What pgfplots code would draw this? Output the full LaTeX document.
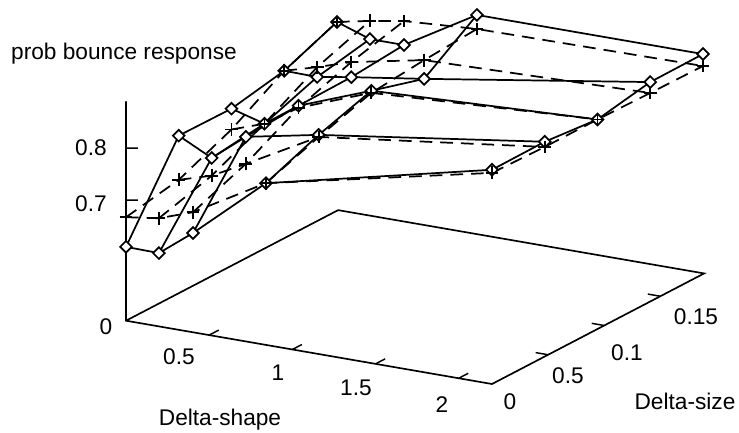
\documentclass[border=0pt]{standalone}
\usepackage{fontspec}
\setmainfont{Liberation Sans}
\usepackage{pgfplots}
\pgfplotsset{compat=1.18}
\begin{document}
\begin{tikzpicture}
\begin{axis}[
  x={(124.77pt,-21.58pt)}, y={(841.7pt,438.8pt)}, z={(0pt,390pt)},
  xmin=0,xmax=2.2,ymin=0,ymax=0.189,zmin=0.468,zmax=0.889,
  hide axis, clip=false,
  frame/.style={black,line width=1.25pt,no markers,line cap=round,line join=miter},
  tick/.style={black,line width=1.1pt,no markers},
  sol/.style={black,line width=1.3pt,no markers},
  solm/.style={black,line width=1.3pt,mark=square*,mark size=3.1pt,
     mark options={solid,fill=white,draw=black,rotate=45,line width=1.3pt}},
  dsh/.style={black,line width=1.3pt,dash pattern=on 9.5pt off 6pt,no markers},
  dshm/.style={black,line width=1.3pt,dash pattern=on 9.5pt off 6pt,mark=+,mark size=4.8pt,
     mark options={solid,line width=1.4pt}},
]
% base and vertical axis
\addplot3[frame] coordinates {(0,0,0.889)(0,0,0.468)(2.2,0,0.468)(2.2,0.189,0.468)(0,0.189,0.468)(0,0,0.468)};
% x ticks
\addplot3[tick] coordinates {(0.5,0,0.468)(0.5,0.0085,0.468)};
\addplot3[tick] coordinates {(1,0,0.468)(1,0.0085,0.468)};
\addplot3[tick] coordinates {(1.5,0,0.468)(1.5,0.0085,0.468)};
\addplot3[tick] coordinates {(2,0,0.468)(2,0.0085,0.468)};
% y ticks
\addplot3[tick] coordinates {(2.2,0.05,0.468)(2.125,0.05,0.468)};
\addplot3[tick] coordinates {(2.2,0.1,0.468)(2.125,0.1,0.468)};
\addplot3[tick] coordinates {(2.2,0.15,0.468)(2.125,0.15,0.468)};
% z ticks
\addplot3[tick] coordinates {(0,0,0.7)(0.0721,0,0.704)};
\addplot3[tick] coordinates {(0,0,0.8)(0.0721,0,0.804)};
% solid columns
\addplot3[sol] coordinates {(0,0,0.610)(0,0.047,0.771)(0,0.094,0.770)(0,0.141,0.790)(0,0.188,0.831)};
\addplot3[sol] coordinates {(0.198,0,0.609)(0.198,0.047,0.739)(0.198,0.094,0.752)(0.198,0.141,0.789)(0.198,0.188,0.809)};
\addplot3[sol] coordinates {(0.403,0,0.659)(0.403,0.047,0.791)(0.403,0.094,0.798)(0.403,0.141,0.800)(0.403,0.188,0.809)};
\addplot3[sol] coordinates {(0.841,0,0.779)(0.841,0.047,0.819)(0.841,0.094,0.851)(0.841,0.141,0.821)(0.841,0.188,0.891)};
\addplot3[sol] coordinates {(2.2,0,0.880)(2.2,0.047,0.881)(2.2,0.094,0.871)(2.2,0.141,0.890)(2.2,0.188,0.891)};
% solid rows with marks
\addplot3[solm] coordinates {(0,0,0.610)(0.198,0,0.609)(0.403,0,0.659)(0.841,0,0.779)(2.2,0,0.880)};
\addplot3[solm] coordinates {(0,0.047,0.771)(0.198,0.047,0.739)(0.403,0.047,0.791)(0.841,0.047,0.819)(2.2,0.047,0.881)};
\addplot3[solm] coordinates {(0,0.094,0.770)(0.198,0.094,0.752)(0.403,0.094,0.798)(0.841,0.094,0.851)(2.2,0.094,0.871)};
\addplot3[solm] coordinates {(0,0.141,0.790)(0.198,0.141,0.789)(0.403,0.141,0.800)(0.841,0.141,0.821)(2.2,0.141,0.890)};
\addplot3[solm] coordinates {(0,0.188,0.831)(0.198,0.188,0.809)(0.403,0.188,0.809)(0.841,0.188,0.891)(2.2,0.188,0.891)};
% dashed columns
\addplot3[dsh] coordinates {(0,0,0.667)(0,0.047,0.686)(0,0.094,0.730)(0,0.141,0.790)(0,0.188,0.831)};
\addplot3[dsh] coordinates {(0.198,0,0.676)(0.198,0.047,0.705)(0.198,0.094,0.752)(0.198,0.141,0.808)(0.198,0.188,0.844)};
\addplot3[dsh] coordinates {(0.403,0,0.699)(0.403,0.047,0.739)(0.403,0.094,0.794)(0.403,0.141,0.829)(0.403,0.188,0.855)};
\addplot3[dsh] coordinates {(0.841,0,0.779)(0.841,0.047,0.815)(0.841,0.094,0.847)(0.841,0.141,0.857)(0.841,0.188,0.864)};
\addplot3[dsh] coordinates {(2.2,0,0.874)(2.2,0.047,0.871)(2.2,0.094,0.871)(2.2,0.141,0.869)(2.2,0.188,0.868)};
% dashed rows with marks
\addplot3[dshm] coordinates {(0,0,0.667)(0.198,0,0.676)(0.403,0,0.699)(0.841,0,0.779)(2.2,0,0.874)};
\addplot3[dshm] coordinates {(0,0.047,0.686)(0.198,0.047,0.705)(0.403,0.047,0.739)(0.841,0.047,0.815)(2.2,0.047,0.871)};
\addplot3[dshm] coordinates {(0,0.094,0.730)(0.198,0.094,0.752)(0.403,0.094,0.794)(0.841,0.094,0.847)(2.2,0.094,0.871)};
\addplot3[dshm] coordinates {(0,0.141,0.790)(0.198,0.141,0.808)(0.403,0.141,0.829)(0.841,0.141,0.857)(2.2,0.141,0.869)};
\addplot3[dshm] coordinates {(0,0.188,0.831)(0.198,0.188,0.844)(0.403,0.188,0.855)(0.841,0.188,0.864)(2.2,0.188,0.868)};
\coordinate (TL) at (axis cs:-0.7574,0,1.04283);
\end{axis}
\begin{scope}[shift={(TL)},x=0.75pt,y=-0.75pt,every node/.style={inner sep=0pt,font=\fontsize{17}{20}\selectfont}]
\node at (124,54) {prob bounce response};
\node at (91,148) {0.8};
\node at (91,204) {0.7};
\node at (106,327) {0};
\node at (179,357) {0.5};
\node at (278,373) {1};
\node at (356,388) {1.5};
\node at (442,405) {2};
\node at (510,402) {0};
\node at (568,376) {0.5};
\node at (627,353) {0.1};
\node at (696,317) {0.15};
\node at (220,420) {Delta-shape};
\node at (685,401) {Delta-size};
\pgfresetboundingbox
\useasboundingbox (0,0) rectangle (739,432);
\end{scope}
\end{tikzpicture}
\end{document}
